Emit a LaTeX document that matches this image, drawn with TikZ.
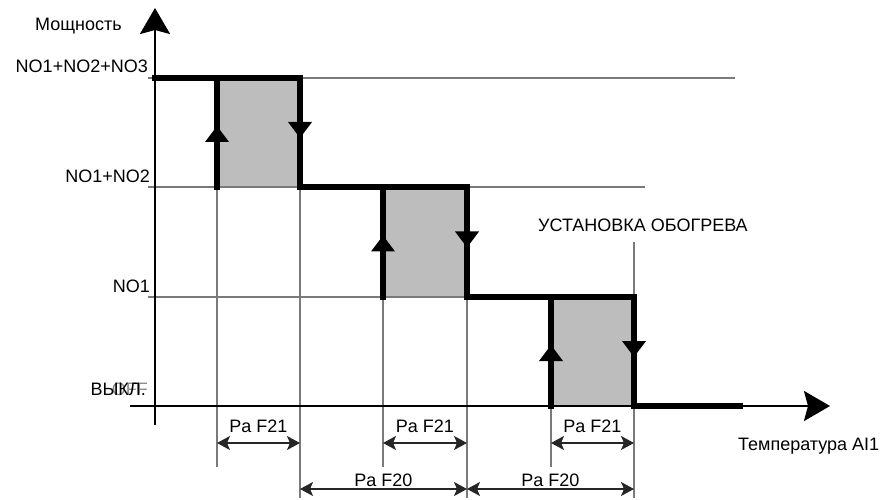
\documentclass[tikz,border=0pt]{standalone}
\usepackage{fontspec}
\setmainfont{Liberation Sans}
\usetikzlibrary{arrows.meta}
\definecolor{boxgray}{HTML}{BDBDBD}
\definecolor{gridgray}{HTML}{7A7A7A}
\tikzset{
  lbl/.style={inner sep=0pt, font=\fontsize{18bp}{21bp}\selectfont},
  grid/.style={draw=gridgray, line width=1.2bp},
  stair/.style={line width=5.5bp, line join=miter, line cap=rect},
  axis/.style={line width=2.5bp, -{Stealth[length=26bp,width=30bp,inset=4bp]}},
  dim/.style={draw=black!85, line width=1.4bp, {Stealth[length=13bp,width=14bp,inset=3bp]}-{Stealth[length=13bp,width=14bp,inset=3bp]}},
  hyst/.style={fill=black}
}
\begin{document}
\begin{tikzpicture}[x=1bp,y=-1bp]
\useasboundingbox (0,0) rectangle (895,500);
% grey boxes
\fill[boxgray] (217,78) rectangle (300,187);
\fill[boxgray] (383,187) rectangle (467,297);
\fill[boxgray] (551,297) rectangle (634,406);
% thin horizontal levels
\draw[grid] (148,78) -- (735,78);
\draw[grid] (148,187) -- (645,187);
\draw[grid] (148,297) -- (635,297);
% thin vertical lines
\draw[grid] (217,187) -- (217,467);
\draw[grid] (300,187) -- (300,498);
\draw[grid] (383,297) -- (383,467);
\draw[grid] (467,297) -- (467,498);
\draw[grid] (551,406) -- (551,467);
\draw[grid] (634,242) -- (634,498);
% axes
\draw[axis] (155,425) -- (155,8);
\draw[axis] (130,406) -- (830,406);
% staircase
\draw[stair] (155,78) -- (300,78) -- (300,187) -- (467,187) -- (467,297) -- (634,297) -- (634,406) -- (740,406);
\draw[stair] (217,187) -- (217,78);
\draw[stair] (383,297) -- (383,187);
\draw[stair] (551,406) -- (551,297);
% direction arrowheads
\foreach \xa/\xb/\m in {217/300/132.5, 383/467/242, 551/634/351.5}{
  \fill[hyst] (\xa,\m-6.5) -- (\xa-12,\m+9.5) -- (\xa+12,\m+9.5) -- cycle;
  \fill[hyst] (\xb,\m+5.5) -- (\xb-12,\m-10.5) -- (\xb+12,\m-10.5) -- cycle;
}
% texts
\node[lbl, anchor=base west] (ylab) at (35,31) {Мощность};
\node[lbl, anchor=base east] (l3) at (148,73) {NO1+NO2+NO3};
\node[lbl, anchor=base east] (l2) at (150,183) {NO1+NO2};
\node[lbl, anchor=base east] (l1) at (150,293) {NO1};
\node[lbl, anchor=base east, text=black!45] (loff) at (148,395) {OFF};
\node[lbl, anchor=base east] (l0) at (146,395) {ВЫКЛ.};
\node[lbl, anchor=base west] (set) at (538,232) {УСТАНОВКА ОБОГРЕВА};
\node[lbl, anchor=base west] (xlab) at (738,450) {Температура AI1};
% dimension arrows
\coordinate (a1) at (217,443); \coordinate (b1) at (300,443);
\coordinate (a2) at (383,443); \coordinate (b2) at (467,443);
\coordinate (a3) at (551,443); \coordinate (b3) at (634,443);
\coordinate (c1) at (300,489); \coordinate (d1) at (467,489);
\coordinate (c2) at (467,489); \coordinate (d2) at (634,489);
\draw[dim] (a1) -- node[lbl, above=10bp] (t1) {Pa F21} (b1);
\draw[dim] (a2) -- node[lbl, above=10bp] (t2) {Pa F21} (b2);
\draw[dim] (a3) -- node[lbl, above=10bp] (t3) {Pa F21} (b3);
\draw[dim] (c1) -- node[lbl, above=2bp] (t4) {Pa F20} (d1);
\draw[dim] (c2) -- node[lbl, above=2bp] (t5) {Pa F20} (d2);
\end{tikzpicture}
\end{document}
